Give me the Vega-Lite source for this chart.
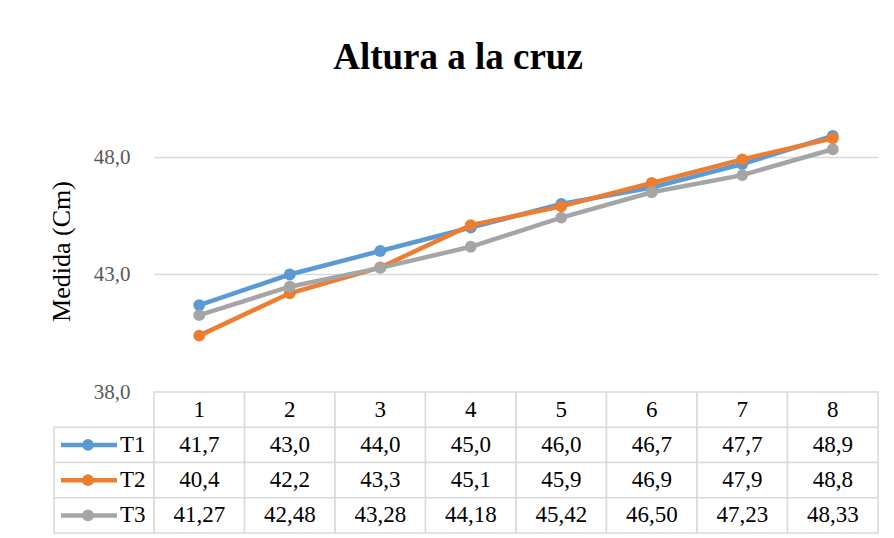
{
  "$schema": "https://vega.github.io/schema/vega-lite/v6.json",
  "width": 724,
  "height": 423,
  "autosize": {"type": "pad"},
  "padding": {"left": 48, "top": 39, "right": 0, "bottom": 0},
  "background": "white",
  "config": {"font": "Liberation Serif", "view": {"stroke": null}},
  "title": {"text": "Altura a la cruz", "font": "Liberation Serif", "fontSize": 37, "fontWeight": "bold", "color": "black", "anchor": "middle", "dx": -58, "offset": 33},
  "data": {"values": [
    {"cat": "1", "series": "T1", "value": 41.7},
    {"cat": "2", "series": "T1", "value": 43.0},
    {"cat": "3", "series": "T1", "value": 44.0},
    {"cat": "4", "series": "T1", "value": 45.0},
    {"cat": "5", "series": "T1", "value": 46.0},
    {"cat": "6", "series": "T1", "value": 46.7},
    {"cat": "7", "series": "T1", "value": 47.7},
    {"cat": "8", "series": "T1", "value": 48.9},
    {"cat": "1", "series": "T2", "value": 40.4},
    {"cat": "2", "series": "T2", "value": 42.2},
    {"cat": "3", "series": "T2", "value": 43.3},
    {"cat": "4", "series": "T2", "value": 45.1},
    {"cat": "5", "series": "T2", "value": 45.9},
    {"cat": "6", "series": "T2", "value": 46.9},
    {"cat": "7", "series": "T2", "value": 47.9},
    {"cat": "8", "series": "T2", "value": 48.8},
    {"cat": "1", "series": "T3", "value": 41.27},
    {"cat": "2", "series": "T3", "value": 42.48},
    {"cat": "3", "series": "T3", "value": 43.28},
    {"cat": "4", "series": "T3", "value": 44.18},
    {"cat": "5", "series": "T3", "value": 45.42},
    {"cat": "6", "series": "T3", "value": 46.50},
    {"cat": "7", "series": "T3", "value": 47.23},
    {"cat": "8", "series": "T3", "value": 48.33}
  ]},
  "transform": [
    {"calculate": "replace(format(datum.value, datum.series === 'T3' ? '.2f' : '.1f'), '.', ',')", "as": "label"}
  ],
  "resolve": {"scale": {"x": "independent", "y": "independent"}},
  "layer": [
    {
      "encoding": {
        "x": {"field": "cat", "type": "ordinal", "scale": {"type": "point", "domain": ["1","2","3","4","5","6","7","8"], "padding": 0.5}, "axis": null},
        "y": {"field": "value", "type": "quantitative",
              "scale": {"domain": [38, 50], "range": [282, 0], "nice": false, "zero": false},
              "axis": {"values": [38, 43, 48], "labelExpr": "replace(format(datum.value, '.1f'), '.', ',')",
                       "title": "Medida (Cm)", "titleFont": "Liberation Serif", "titleFontSize": 26, "titleFontWeight": "normal", "titleColor": "black", "titlePadding": 19,
                       "labelFont": "Liberation Serif", "labelFontSize": 21, "labelColor": "#595959", "labelPadding": 24,
                       "ticks": false, "domain": false, "grid": true, "gridColor": "#d9d9d9", "gridWidth": 1.5}},
        "color": {"field": "series", "type": "nominal", "scale": {"domain": ["T1","T2","T3"], "range": ["#5b9bd5","#ed7d31","#a5a5a5"]}, "legend": null}
      },
      "layer": [
        {"transform": [{"filter": "datum.series === 'T1'"}], "mark": {"type": "line", "strokeWidth": 4.5}},
        {"transform": [{"filter": "datum.series === 'T1'"}], "mark": {"type": "point", "filled": true, "size": 140, "opacity": 1}},
        {"transform": [{"filter": "datum.series === 'T2'"}], "mark": {"type": "line", "strokeWidth": 4.5}},
        {"transform": [{"filter": "datum.series === 'T2'"}], "mark": {"type": "point", "filled": true, "size": 140, "opacity": 1}},
        {"transform": [{"filter": "datum.series === 'T3'"}], "mark": {"type": "line", "strokeWidth": 4.5}},
        {"transform": [{"filter": "datum.series === 'T3'"}], "mark": {"type": "point", "filled": true, "size": 140, "opacity": 1}}
      ]
    },
    {
      "encoding": {
        "x": {"field": "cat", "type": "ordinal", "scale": {"type": "band", "domain": ["1","2","3","4","5","6","7","8"], "paddingInner": 0, "paddingOuter": 0}, "axis": null}
      },
      "layer": [
        {"mark": {"type": "rect", "fill": "white", "stroke": "#d9d9d9", "strokeWidth": 1.5},
         "encoding": {"y": {"field": "series", "type": "nominal", "scale": {"type": "band", "domain": ["h","T1","T2","T3"], "range": [282, 423], "paddingInner": 0, "paddingOuter": 0}, "axis": null}}},
        {"transform": [{"filter": "datum.series === 'T1'"}],
         "mark": {"type": "rect", "fill": "white", "stroke": "#d9d9d9", "strokeWidth": 1.5},
         "encoding": {"y": {"datum": "h", "type": "nominal", "scale": {"type": "band", "domain": ["h","T1","T2","T3"], "range": [282, 423], "paddingInner": 0, "paddingOuter": 0}, "axis": null}}},
        {"mark": {"type": "text", "fontSize": 23, "font": "Liberation Serif", "color": "black", "align": "center", "baseline": "middle"},
         "encoding": {"x": {"field": "cat", "type": "ordinal", "bandPosition": 0.5},
                      "y": {"field": "series", "type": "nominal", "bandPosition": 0.5, "scale": {"type": "band", "domain": ["h","T1","T2","T3"], "range": [282, 423], "paddingInner": 0, "paddingOuter": 0}, "axis": null},
                      "text": {"field": "label"}}},
        {"transform": [{"filter": "datum.series === 'T1'"}],
         "mark": {"type": "text", "fontSize": 23, "font": "Liberation Serif", "color": "black", "align": "center", "baseline": "middle"},
         "encoding": {"x": {"field": "cat", "type": "ordinal", "bandPosition": 0.5},
                      "y": {"datum": "h", "type": "nominal", "bandPosition": 0.5, "scale": {"type": "band", "domain": ["h","T1","T2","T3"], "range": [282, 423], "paddingInner": 0, "paddingOuter": 0}, "axis": null},
                      "text": {"field": "cat"}}}
      ]
    },
    {
      "transform": [{"filter": "datum.cat === '1'"}],
      "encoding": {
        "y": {"field": "series", "type": "nominal", "bandPosition": 0.5, "scale": {"type": "band", "domain": ["h","T1","T2","T3"], "range": [282, 423], "paddingInner": 0, "paddingOuter": 0}, "axis": null}
      },
      "layer": [
        {"mark": {"type": "rect", "fill": "white", "stroke": "#d9d9d9", "strokeWidth": 1.5},
         "encoding": {"x": {"datum": "L", "type": "nominal", "scale": {"type": "band", "domain": ["L"], "range": [-100, 0], "paddingInner": 0, "paddingOuter": 0}, "axis": null},
                      "y": {"field": "series", "type": "nominal", "bandPosition": 0}}},
        {"mark": {"type": "rule", "strokeWidth": 4.5},
         "encoding": {"x": {"datum": "L", "type": "nominal", "bandPosition": 0.07, "scale": {"type": "band", "domain": ["L"], "range": [-100, 0], "paddingInner": 0, "paddingOuter": 0}, "axis": null},
                      "x2": {"datum": "L", "bandPosition": 0.63},
                      "color": {"field": "series", "type": "nominal", "legend": null}}},
        {"mark": {"type": "point", "filled": true, "size": 140, "opacity": 1},
         "encoding": {"x": {"datum": "L", "type": "nominal", "bandPosition": 0.34, "scale": {"type": "band", "domain": ["L"], "range": [-100, 0], "paddingInner": 0, "paddingOuter": 0}, "axis": null},
                      "color": {"field": "series", "type": "nominal", "legend": null}}},
        {"mark": {"type": "text", "fontSize": 23, "font": "Liberation Serif", "color": "black", "align": "left", "baseline": "middle"},
         "encoding": {"x": {"datum": "L", "type": "nominal", "bandPosition": 0.66, "scale": {"type": "band", "domain": ["L"], "range": [-100, 0], "paddingInner": 0, "paddingOuter": 0}, "axis": null},
                      "text": {"field": "series"}}}
      ]
    }
  ]
}
